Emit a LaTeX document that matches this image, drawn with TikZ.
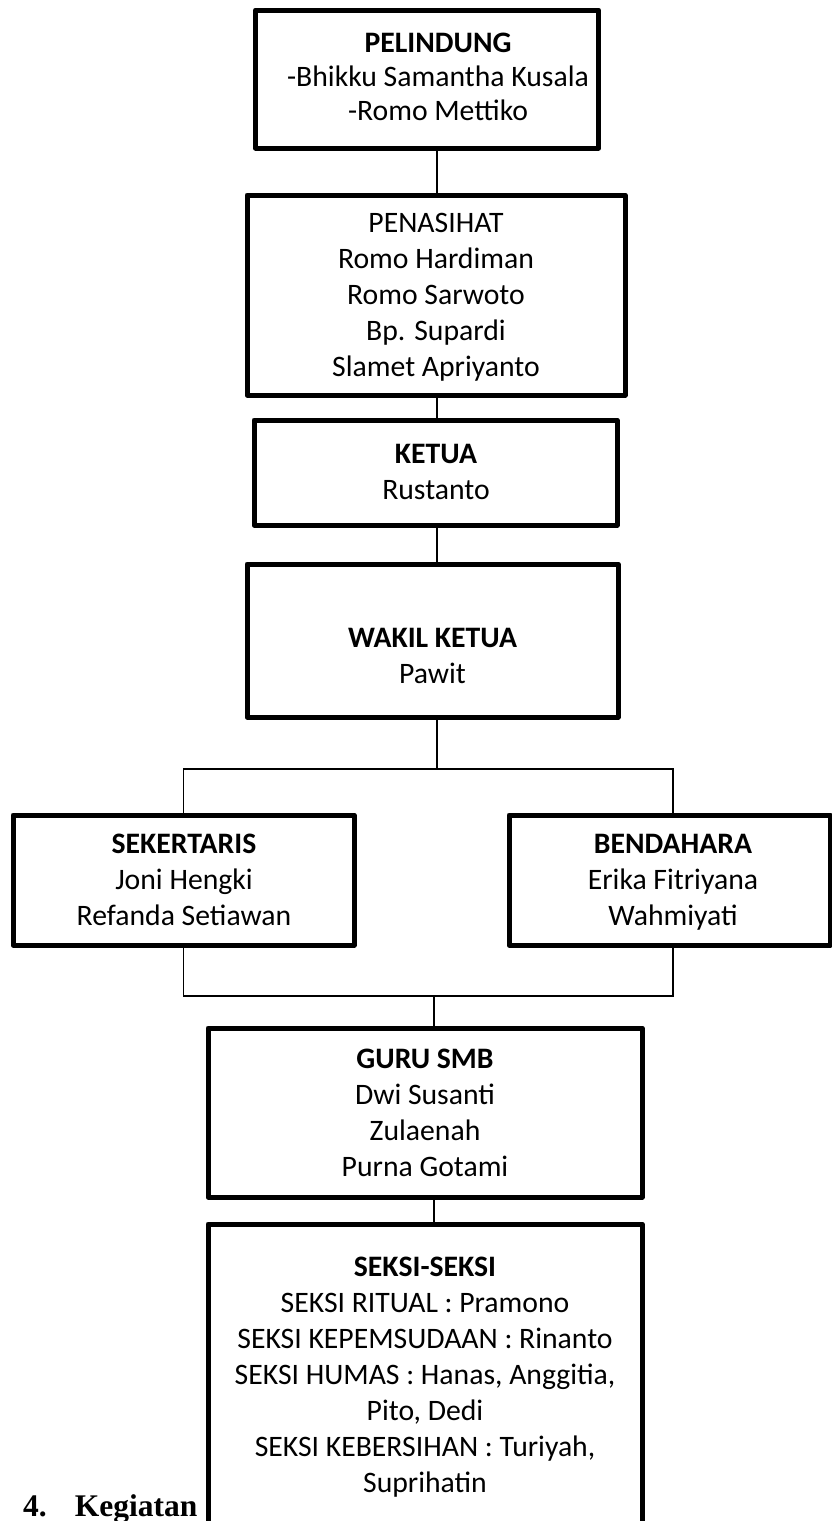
\documentclass[tikz,border=0pt]{standalone}
\usepackage{fontspec}
\setmainfont{Carlito}
\newfontfamily\headserif{Liberation Serif}
\usetikzlibrary{calc}
\begin{document}
\begin{tikzpicture}[x=1pt,y=-1pt,
  orgbox/.style={draw, line width=5pt, line join=round, fill=white, inner sep=0pt},
  orgtext/.style={align=center, inner sep=0pt, font=\fontsize{29.7}{36}\selectfont},
  tighttext/.style={orgtext, font=\fontsize{29.7}{34}\selectfont},
  link/.style={line width=1.5pt}]
\useasboundingbox (0,0) rectangle (831,1521);

% heading partly covered by the last box
\node[anchor=base west, inner sep=0pt, font=\headserif\bfseries\fontsize{31.5}{36}\selectfont] (heading) at (23,1516) {4.\hskip 28pt Kegiatan};

% boxes
\node[orgbox, minimum width=343pt, minimum height=138pt] (pel) at (427,79) {};
\node[orgbox, minimum width=378pt, minimum height=200pt] (pen) at (436,295) {};
\node[orgbox, minimum width=363pt, minimum height=105pt] (ket) at (435.5,472.5) {};
\node[orgbox, minimum width=371pt, minimum height=153pt] (wak) at (432.5,640.5) {};
\node[orgbox, minimum width=341pt, minimum height=130pt] (sek) at (183.5,880) {};
\node[orgbox, minimum width=321pt, minimum height=130pt] (ben) at (669.5,880) {};
\node[orgbox, minimum width=434pt, minimum height=169pt] (guru) at (425,1112.5) {};
\node[orgbox, minimum width=434pt, minimum height=336pt] (seksi) at (425,1392) {};

% texts
\node[tighttext] (pelt) at (438,80) {\strut\textbf{PELINDUNG}\\-Bhikku Samantha Kusala\\-Romo Mettiko\strut};
\node[orgtext] (pent) at (436,297) {\strut PENASIHAT\\Romo Hardiman\\Romo Sarwoto\\Bp. Supardi\\Slamet Apriyanto\strut};
\node[orgtext] (kett) at (436,474) {\strut\textbf{KETUA}\\Rustanto\strut};
\node[orgtext] (wakt) at (432.5,658.4) {\strut\textbf{WAKIL KETUA}\\Pawit\strut};
\node[orgtext] (sekt) at (184,882.4) {\strut\textbf{SEKERTARIS}\\Joni Hengki\\Refanda Setiawan\strut};
\node[orgtext] (bent) at (673,882.4) {\strut\textbf{BENDAHARA}\\Erika Fitriyana\\Wahmiyati\strut};
\node[orgtext] (gurut) at (425,1115.4) {\strut\textbf{GURU SMB}\\Dwi Susanti\\Zulaenah\\Purna Gotami\strut};
\node[orgtext] (seksit) at (425,1377.4) {\strut\textbf{SEKSI-SEKSI}\\SEKSI RITUAL : Pramono\\SEKSI KEPEMSUDAAN : Rinanto\\SEKSI HUMAS : Hanas, Anggitia,\\Pito, Dedi\\SEKSI KEBERSIHAN : Turiyah,\\Suprihatin\strut};

% connectors
\coordinate (axis) at (437,0);
\coordinate (bax) at (673,0);
\coordinate (split) at (437,769);
\coordinate (merge) at (434,996);
\draw[link] (pel.south -| axis) -- (pen.north -| axis);
\draw[link] (pen.south -| axis) -- (ket.north -| axis);
\draw[link] (ket.south -| axis) -- (wak.north -| axis);
\draw[link] (wak.south -| axis) -- (split);
\draw[link] (sek.north) |- (split -| bax) -- (ben.north -| bax);
\draw[link] (sek.south) |- (merge -| bax) -- (ben.south -| bax);
\draw[link] (merge) -- (guru.north -| merge);
\draw[link] (guru.south -| merge) -- (seksi.north -| merge);
\end{tikzpicture}
\end{document}
